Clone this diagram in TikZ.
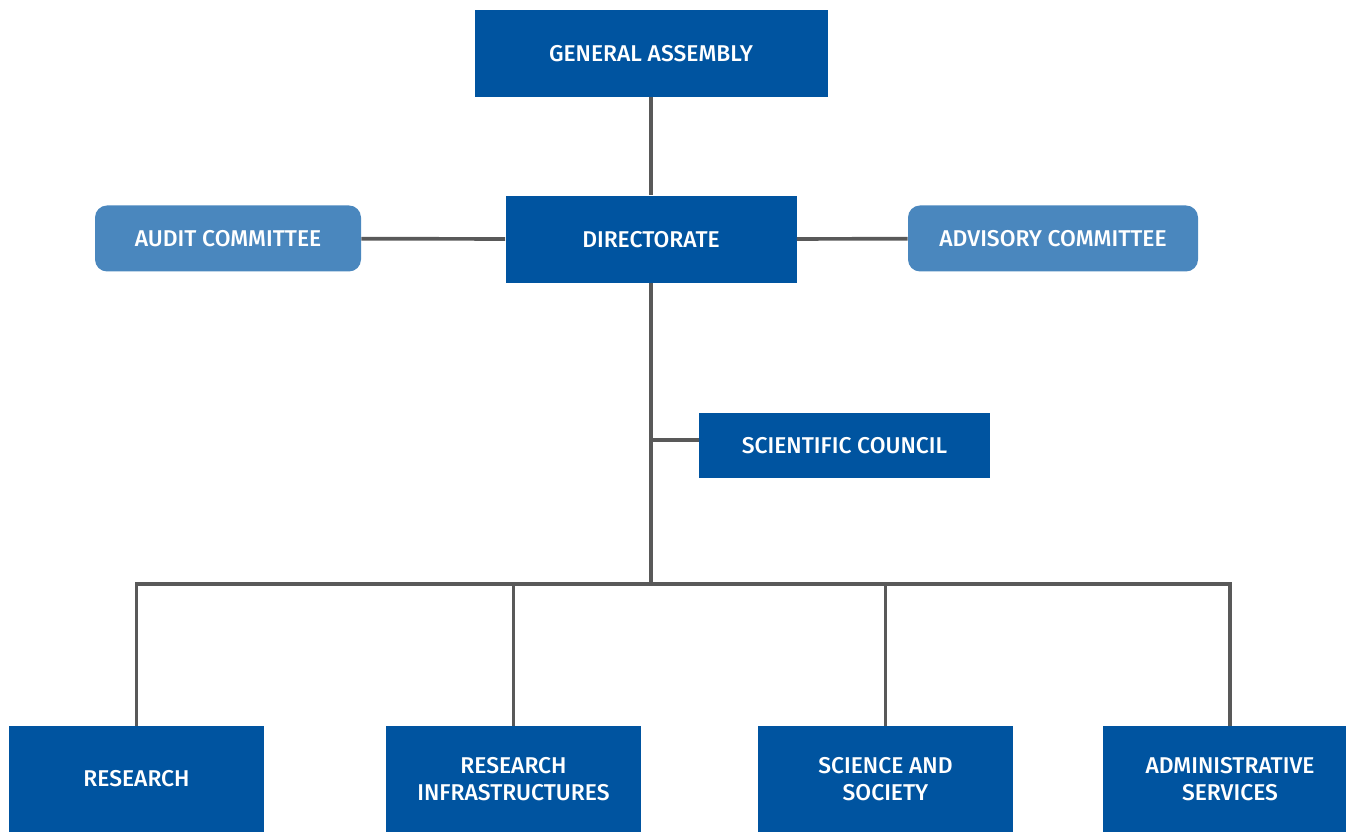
\documentclass[tikz,border=0pt]{standalone}
\usepackage{fontspec}
\setmainfont{Fira Sans}[BoldFont={* Medium}]
\usepackage{xcolor}
\usetikzlibrary{positioning, calc}

\definecolor{darkblue}{HTML}{0054A0}
\definecolor{lightblue}{HTML}{4A87BE}
\definecolor{linegray}{HTML}{595959}

\begin{document}
\begin{tikzpicture}
    % Styles
    \tikzstyle{block} = [rectangle, fill=darkblue, text=white, font=\bfseries\fontsize{13}{15.5}\selectfont, align=center, inner sep=0pt]
    \tikzstyle{side} = [block, fill=lightblue, rounded corners=0.24cm, minimum width=5.32cm, minimum height=1.32cm]
    \tikzstyle{unit} = [block, minimum width=5.10cm, minimum height=2.12cm]
    \tikzstyle{line} = [draw=linegray, line width=2.1pt]

    \useasboundingbox (0,0) rectangle (26.92,-16.64);

    % Nodes
    \node [block, minimum width=7.06cm, minimum height=1.74cm] (ga) at (13.02,-1.07) {GENERAL ASSEMBLY};
    \node [block, minimum width=5.82cm, minimum height=1.74cm, below=1.96cm of ga] (dir) {DIRECTORATE};

    % Side nodes
    \node [side] (audit) at (4.56,-4.77) {AUDIT COMMITTEE};
    \node [side, minimum width=5.80cm] (advisory) at (21.06,-4.77) {ADVISORY COMMITTEE};
    \node [block, minimum width=5.82cm, minimum height=1.30cm] (council) at (16.89,-8.91) {SCIENTIFIC COUNCIL};

    % Units
    \node [unit] (research) at (2.73,-15.58) {RESEARCH};
    \node [unit] (infra) at (10.27,-15.58) {RESEARCH\\INFRASTRUCTURES};
    \node [unit] (society) at (17.71,-15.58) {SCIENCE AND\\SOCIETY};
    \node [unit] (admin) at (24.60,-15.58) {ADMINISTRATIVE\\SERVICES};

    \coordinate (branch) at (13.02,-8.80);
    \coordinate (bus) at (13.02,-11.68);

    % Paths
    \path [line] (ga) -- (dir);
    \path [line] (audit) -- (dir);
    \path [line] (dir) -- (advisory);
    \path [line] (dir) -- (bus);
    \path [line] (branch) -- (branch -| council.west);
    \path [line] (research.north) |- (bus) -| (admin.north);
    \path [line] (infra.north) -- (infra.north |- bus);
    \path [line] (society.north) -- (society.north |- bus);
\end{tikzpicture}
\end{document}
